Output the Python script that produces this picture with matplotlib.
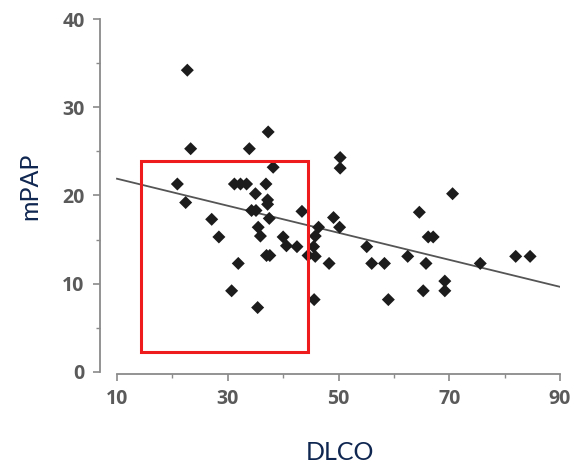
import matplotlib
matplotlib.use("Agg")
import matplotlib.pyplot as plt
from matplotlib.patches import Rectangle
from matplotlib.ticker import MultipleLocator

# DLCO vs mPAP scatter
dlco = [22.7, 23.3, 33.9, 37.3, 38.2, 20.9, 22.4, 27.1, 28.4, 31.2,
        32.3, 33.4, 36.9, 35.0, 37.2, 37.2, 34.3, 35.1, 43.4, 37.5,
        35.5, 35.9, 40.0, 40.6, 42.5, 37.0, 37.6, 31.9, 30.7, 35.4,
        45.6, 46.4, 45.8, 45.5, 44.5, 45.8, 48.3, 49.1, 50.2, 50.3,
        50.3, 70.6, 64.6, 66.2, 67.1, 55.1, 56.0, 58.3, 62.5, 65.8,
        75.6, 82.0, 84.6, 69.2, 69.2, 65.3, 59.0]
mpap = [34.2, 25.3, 25.3, 27.2, 23.2, 21.3, 19.2, 17.3, 15.3, 21.3,
        21.3, 21.3, 21.3, 20.2, 19.5, 19.0, 18.3, 18.3, 18.2, 17.4,
        16.4, 15.4, 15.3, 14.3, 14.2, 13.2, 13.2, 12.3, 9.2, 7.3,
        8.2, 16.4, 15.4, 14.2, 13.2, 13.1, 12.3, 17.5, 16.4, 24.3,
        23.1, 20.2, 18.1, 15.3, 15.3, 14.2, 12.3, 12.3, 13.1, 12.3,
        12.3, 13.1, 13.1, 10.3, 9.2, 9.2, 8.2]

# regression line end points
fit_x = [10, 90]
fit_y = [21.9, 9.65]

# highlighted region (x0, x1, y0, y1)
box = [14.3, 44.5, 2.3, 23.9]

x_ticks = [10, 30, 50, 70, 90]
y_ticks = [0, 10, 20, 30, 40]

W, H = 579, 468
fig = plt.figure(figsize=(W / 100, H / 100), dpi=100)
ax = fig.add_axes([100 / W, (H - 374) / H, 460 / W, 355 / H])

ax.plot(fit_x, fit_y, color="#555555", lw=1.3, zorder=2)
ax.scatter(dlco, mpap, marker="D", s=44, color="#1c1c1c", edgecolors="none",
           zorder=3, clip_on=False)
ax.add_patch(Rectangle((box[0], box[2]), box[1] - box[0], box[3] - box[2],
                       fill=False, edgecolor="#ee1c1c", lw=2.2, zorder=4))

ax.set_xlim(6.93, 90)
ax.set_ylim(-0.23, 40)

for s in ["top", "right"]:
    ax.spines[s].set_visible(False)
ax.spines["left"].set_bounds(0, 40)
ax.spines["bottom"].set_bounds(10, 90)
for s in ["left", "bottom"]:
    ax.spines[s].set_color("#8a8a8a")
    ax.spines[s].set_linewidth(1.3)

ax.set_xticks(x_ticks)
ax.set_yticks(y_ticks)
ax.xaxis.set_minor_locator(MultipleLocator(10))
ax.yaxis.set_minor_locator(MultipleLocator(5))
ax.tick_params(which="major", length=5, width=1.2, color="#8a8a8a",
               labelsize=14, labelcolor="#5a5a5a", pad=6)
ax.tick_params(which="minor", length=3, width=1.0, color="#8a8a8a")
for lab in ax.get_xticklabels() + ax.get_yticklabels():
    lab.set_fontweight("bold")
    lab.set_family("Open Sans")

fig.text(30 / W, 1 - 186 / H, "mPAP", rotation=90, ha="center", va="center",
         fontsize=18, color="#0f2650", family="Lato")
fig.text(340 / W, 1 - 452 / H, "DLCO", ha="center", va="center",
         fontsize=18, color="#0f2650", family="Lato")

fig.savefig("out.png", dpi=100)
